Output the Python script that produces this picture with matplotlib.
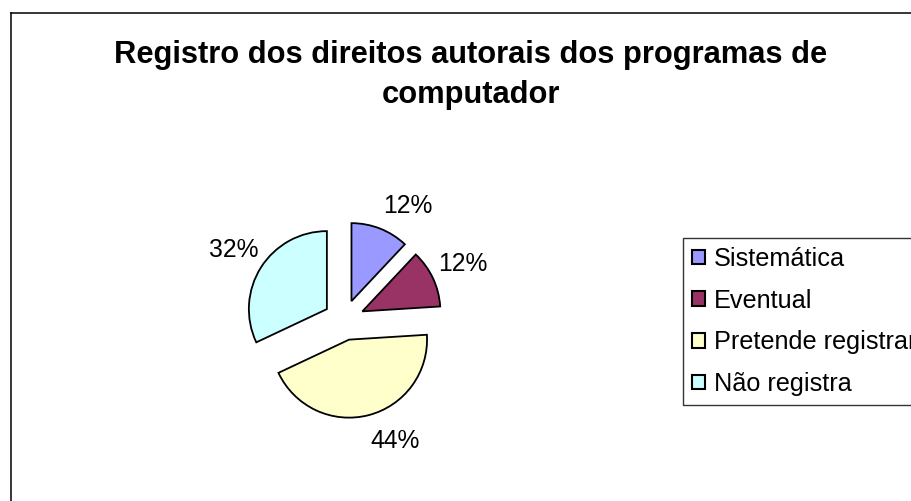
import matplotlib
matplotlib.use("Agg")
import matplotlib.pyplot as plt
import numpy as np
from matplotlib.lines import Line2D

plt.rcParams['font.family'] = ['Liberation Sans', 'DejaVu Sans']

title_lines = ["Registro dos direitos autorais dos programas de", "computador"]
categories = ["Sistemática", "Eventual", "Pretende registrar", "Não registra"]
values = [12, 12, 44, 32]
colors = ["#9999FF", "#993366", "#FFFFCC", "#CCFFFF"]
label_nudge_deg = [-9, 0, 10, 0]

W, H = 912, 501
fig = plt.figure(figsize=(W / 100, H / 100), dpi=100)

# frame of the chart area
fig.add_artist(Line2D([11 / W, 11 / W], [0, 1 - 13 / H], transform=fig.transFigure,
                      color='black', lw=1.1))
fig.add_artist(Line2D([11 / W, 1], [1 - 13 / H, 1 - 13 / H], transform=fig.transFigure,
                      color='black', lw=1.1))

# title
fig.text(471 / W, 1 - 63 / H, title_lines[0], ha='center', va='baseline',
         fontsize=22.2, fontweight='bold')
fig.text(471 / W, 1 - 103 / H, title_lines[1], ha='center', va='baseline',
         fontsize=22.2, fontweight='bold')

# pie axes: centre (344, 320) px, radius 78 px
cx, cy, r = 344, 320, 78
S = 150
ax = fig.add_axes([(cx - S) / W, (H - cy - S) / H, 2 * S / W, 2 * S / H])
lim = S / r
ax.set_aspect('equal')
ax.axis('off')

wedges, _ = ax.pie(values, colors=colors, startangle=90, counterclock=False,
                   explode=[0.26] * len(values), radius=1.0,
                   wedgeprops=dict(edgecolor='black', linewidth=1.3))
ax.set_xlim(-lim, lim)
ax.set_ylim(-lim, lim)

total = sum(values)
for w, v, nd in zip(wedges, values, label_nudge_deg):
    mid = np.deg2rad((w.theta1 + w.theta2) / 2 + nd)
    x0, y0 = w.center
    d = 1.42
    ax.text(x0 + d * np.cos(mid), y0 + d * np.sin(mid), f"{round(100 * v / total)}%",
            ha='center', va='center', fontsize=17.7)

leg = fig.legend(wedges, categories, loc='upper left',
                 bbox_to_anchor=(683 / W, 1 - 238 / H), bbox_transform=fig.transFigure,
                 borderaxespad=0, fontsize=18.2, frameon=True, fancybox=False,
                 handlelength=0.52, handleheight=0.52, handletextpad=0.35,
                 labelspacing=0.7, borderpad=0.35)
leg.get_frame().set_edgecolor('black')
leg.get_frame().set_linewidth(1.0)
for h in leg.legend_handles:
    h.set_linewidth(1.5)

fig.savefig("out.png", dpi=100)
